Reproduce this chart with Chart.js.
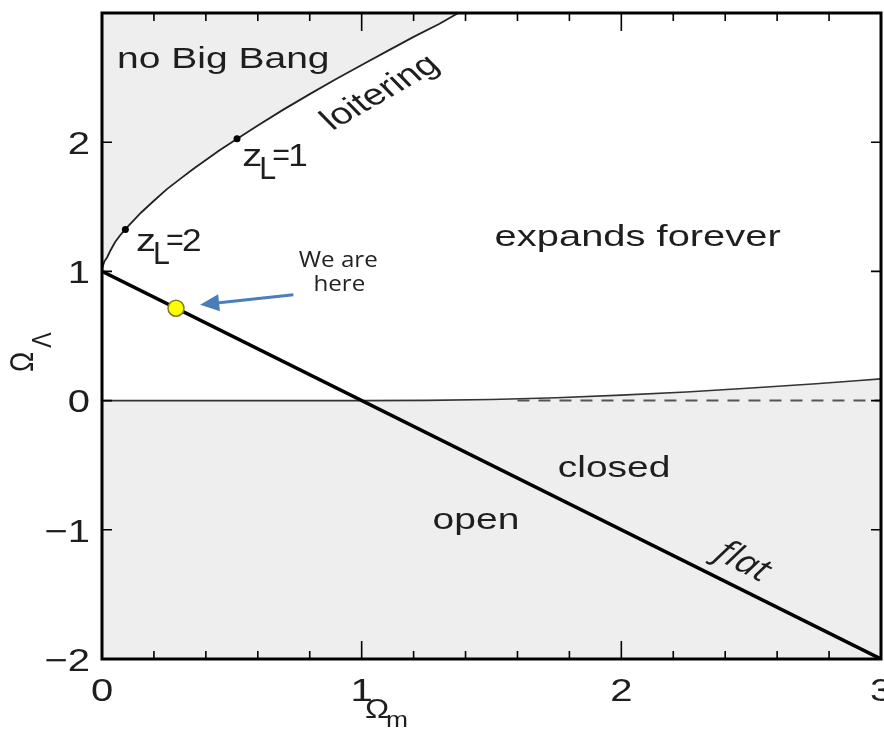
<!DOCTYPE html>
<html><head><meta charset="utf-8">
<script src="https://cdn.jsdelivr.net/npm/chart.js@4"></script>
<style>html,body{margin:0;padding:0;background:#fff;overflow:hidden}canvas{display:block}</style>
</head><body>
<canvas id="c" width="884" height="734"></canvas>
<script>
// ---- data ----
const loiterOmegaM = [0, 0.001, 0.005, 0.01, 0.02, 0.03, 0.05, 0.07, 0.1, 0.15, 0.2, 0.25, 0.3, 0.35, 0.4, 0.45, 0.5, 0.6, 0.7, 0.8, 0.9, 1.0, 1.1, 1.2, 1.3, 1.372];
const loiterOmegaL = [1.0, 1.014, 1.052, 1.08, 1.11, 1.152, 1.226, 1.28, 1.348, 1.454, 1.547, 1.637, 1.714, 1.79, 1.862, 1.934, 2.0, 2.13, 2.254, 2.372, 2.487, 2.598, 2.707, 2.815, 2.917, 3.0];
const recollapseOmegaM = [0, 1.0, 1.25, 1.5, 1.75, 2.0, 2.25, 2.5, 2.75, 3.0];
const recollapseOmegaL = [0, 0, 0.002, 0.008, 0.022, 0.042, 0.067, 0.097, 0.13, 0.168];
const dashedOmegaM = [1.6, 3.0];
const dashedOmegaL = [0, 0];
const flatOmegaM = [0, 3];
const flatOmegaL = [1, -2];
const zLoiterLabels = ['1', '2'];
const zLoiterOmegaM = [0.52, 0.09];
const zLoiterOmegaL = [2.026, 1.325];
const hereOmegaM = [0.285];
const hereOmegaL = [0.715];
const xTickValues = [0, 1, 2, 3];
const xTickLabels = ['0', '1', '2', '3'];
const yTickValues = [-2, -1, 0, 1, 2];
const yTickLabels = ['\u22122', '\u22121', '0', '1', '2'];
const regionLabels = ['no Big Bang', 'loitering', 'expands forever', 'closed', 'open', 'flat'];

const pts = (xs, ys) => xs.map((x, i) => ({x: x, y: ys[i]}));
const GRAY = '#eeeeee';
const SX = 1.3; // horizontal stretch of the reference picture
const FONT = "'Liberation Sans', Arial, sans-serif";

function drawText(ctx, s, px, py, font, align, baseline, sx, angleDeg, color) {
  ctx.save();
  ctx.translate(px, py);
  ctx.scale(sx, 1);
  if (angleDeg) ctx.rotate(-Math.atan(sx * Math.tan(angleDeg * Math.PI / 180)));
  ctx.font = font;
  ctx.textAlign = align;
  ctx.textBaseline = baseline;
  ctx.fillStyle = color || '#1e1e1e';
  ctx.fillText(s, 0, 0);
  ctx.restore();
}

const decor = {
  id: 'decor',
  afterDraw(chart) {
    const ctx = chart.ctx, xs = chart.scales.x, ys = chart.scales.y, a = chart.chartArea;
    const X = v => xs.getPixelForValue(v), Y = v => ys.getPixelForValue(v);
    // frame
    ctx.save();
    ctx.strokeStyle = '#000';
    ctx.lineWidth = 3;
    ctx.strokeRect(a.left, a.top, a.right - a.left, a.bottom - a.top);
    // x ticks (bottom and top, inward), minor every 0.2
    ctx.lineWidth = 1.6;
    ctx.beginPath();
    for (let i = 0; i <= 15; i++) {
      const v = i * 0.2;
      const major = Math.abs(v - Math.round(v)) < 1e-6;
      const len = major ? 18 : 8;
      const p = X(v);
      ctx.moveTo(p, a.bottom); ctx.lineTo(p, a.bottom - len);
      ctx.moveTo(p, a.top); ctx.lineTo(p, a.top + len);
    }
    // y ticks (left and right, inward)
    yTickValues.forEach(v => {
      const p = Y(v);
      ctx.moveTo(a.left, p); ctx.lineTo(a.left + 10, p);
      ctx.moveTo(a.right, p); ctx.lineTo(a.right - 10, p);
    });
    ctx.stroke();
    ctx.restore();

    // tick labels
    xTickValues.forEach((v, i) => drawText(ctx, xTickLabels[i], X(v), a.bottom + 42, '32px ' + FONT, 'center', 'alphabetic', 1.25));
    yTickValues.forEach((v, i) => drawText(ctx, yTickLabels[i], a.left - 12, Y(v) + 3, '32px ' + FONT, 'right', 'middle', 1.25));

    // axis titles
    drawText(ctx, '\u03A9', 377, 711, '27px ' + FONT, 'center', 'middle', 1.2);
    drawText(ctx, 'm', 397, 721, '22px ' + FONT, 'center', 'middle', 1.2);
    drawText(ctx, '\u03A9', 24, 362, '27px ' + FONT, 'center', 'middle', 1.2, 90);
    drawText(ctx, '\u039B', 43, 340, '23px ' + FONT, 'center', 'middle', 1.2, 90);

    // region labels
    const f30 = '30px ' + FONT;
    drawText(ctx, regionLabels[0], X(0.058), Y(2.575), f30, 'left', 'alphabetic', SX);
    drawText(ctx, regionLabels[1], X(1.072), Y(2.382), f30, 'center', 'middle', SX, 30);
    drawText(ctx, regionLabels[2], X(1.512), Y(1.199), f30, 'left', 'alphabetic', 1.33);
    drawText(ctx, regionLabels[3], X(1.755), Y(-0.588), f30, 'left', 'alphabetic', SX);
    drawText(ctx, regionLabels[4], X(1.273), Y(-0.99), f30, 'left', 'alphabetic', SX);
    drawText(ctx, regionLabels[5], X(2.468), Y(-1.25), "italic 33px 'Open Sans', sans-serif", 'center', 'middle', 1.15, -27);

    // z_L labels next to their dots
    const zAnchors = [[0.54, 1.817], [0.131, 1.16]];
    const f32 = '32px ' + FONT;
    zLoiterLabels.forEach((lab, i) => {
      const px = X(zAnchors[i][0]), py = Y(zAnchors[i][1]);
      drawText(ctx, 'z', px, py, f32, 'left', 'alphabetic', 1.25);
      drawText(ctx, 'L', px + 17, py + 13, f32, 'left', 'alphabetic', 0.95);
      drawText(ctx, '=', px + 30, py - 1, f32, 'left', 'alphabetic', 0.95);
      drawText(ctx, lab, px + 46, py, f32, 'left', 'alphabetic', 1.1);
    });

    // "We are here" + arrow
    const fc = "21px 'Open Sans', sans-serif";
    drawText(ctx, 'We are', X(0.91), Y(1.036), fc, 'center', 'alphabetic', 1.15, 0, '#222');
    drawText(ctx, 'here', X(0.914), Y(0.851), fc, 'center', 'alphabetic', 1.15, 0, '#222');
    const tx = X(0.737), ty = Y(0.82), hx = X(0.378), hy = Y(0.742);
    const ang = Math.atan2(hy - ty, hx - tx);
    const hl = 19, hw = 8.5;
    const bx = hx - hl * Math.cos(ang), by = hy - hl * Math.sin(ang);
    ctx.save();
    ctx.strokeStyle = '#4a7ebb'; ctx.fillStyle = '#4a7ebb'; ctx.lineWidth = 3;
    ctx.beginPath(); ctx.moveTo(tx, ty); ctx.lineTo(bx, by); ctx.stroke();
    ctx.beginPath();
    ctx.moveTo(hx, hy);
    ctx.lineTo(bx + hw * Math.sin(ang), by - hw * Math.cos(ang));
    ctx.lineTo(bx - hw * Math.sin(ang), by + hw * Math.cos(ang));
    ctx.closePath(); ctx.fill();
    ctx.restore();
  }
};

new Chart(document.getElementById('c'), {
  type: 'scatter',
  data: {
    datasets: [
      {label: 'We are here', data: pts(hereOmegaM, hereOmegaL), showLine: false, pointRadius: 8,
       pointBackgroundColor: '#ffff00', pointBorderColor: '#7d7d1e', pointBorderWidth: 1.5, order: 0},
      {label: 'z_L', data: pts(zLoiterOmegaM, zLoiterOmegaL), showLine: false, pointRadius: 3.5,
       pointBackgroundColor: '#000', pointBorderColor: '#000', pointBorderWidth: 0, order: 0},
      {label: 'flat', data: pts(flatOmegaM, flatOmegaL), showLine: true, borderColor: '#000',
       borderWidth: 3.5, pointRadius: 0, fill: false, order: 1},
      {label: 'loitering', data: pts(loiterOmegaM, loiterOmegaL), showLine: true, borderColor: '#222',
       borderWidth: 1.8, pointRadius: 0, fill: 'end', backgroundColor: GRAY, tension: 0, order: 2},
      {label: 'recollapse', data: pts(recollapseOmegaM, recollapseOmegaL), showLine: true, borderColor: '#333',
       borderWidth: 1.6, pointRadius: 0, fill: 'start', backgroundColor: GRAY, cubicInterpolationMode: 'monotone', order: 3},
      {label: 'dashed', data: pts(dashedOmegaM, dashedOmegaL), showLine: true, borderColor: '#555',
       borderWidth: 2, borderDash: [12, 9], pointRadius: 0, fill: false, order: 2}
    ]
  },
  options: {
    responsive: false,
    animation: false,
    events: [],
    layout: {autoPadding: false, padding: {left: 102, right: 3, top: 13, bottom: 75}},
    scales: {
      x: {type: 'linear', min: 0, max: 3, display: false},
      y: {type: 'linear', min: -2, max: 3, display: false}
    },
    plugins: {
      legend: {display: false},
      tooltip: {enabled: false},
      filler: {drawTime: 'beforeDatasetsDraw'}
    }
  },
  plugins: [decor]
});
</script>
</body></html>
